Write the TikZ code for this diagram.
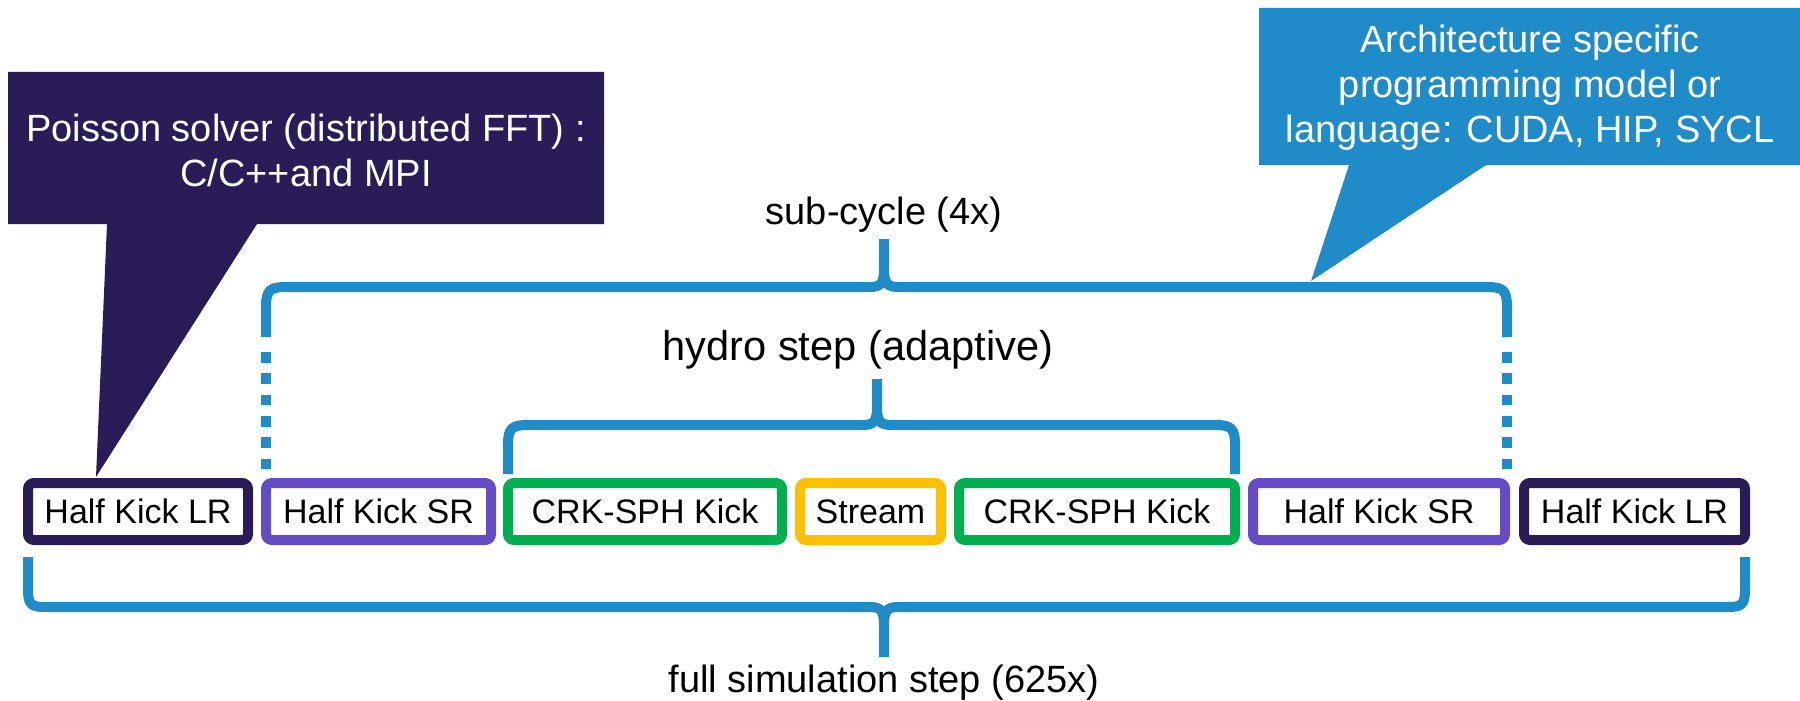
\documentclass[tikz,border=0pt]{standalone}
\usepackage{fontspec}
\setmainfont{Liberation Sans}
\definecolor{navy}{HTML}{2A1C57}
\definecolor{violet}{HTML}{654CC4}
\definecolor{okgreen}{HTML}{00B050}
\definecolor{gold}{HTML}{FFC000}
\definecolor{bblue}{HTML}{1F8BC9}
\tikzset{
  stagebox/.style={draw=#1, line width=5pt, rounded corners=3pt, fill=white, inner sep=0pt,
     minimum height=28.5pt, font=\fontsize{17}{20}\selectfont, text=black},
  bracepath/.style={draw=bblue, line width=5pt, line join=round},
  dotpath/.style={draw=bblue, line width=5pt, dash pattern=on 5.35pt off 5.3pt},
  lbl/.style={font=\fontsize{19}{23}\selectfont, text=black, inner sep=0pt},
  callouttext/.style={font=\fontsize{19}{22.5}\selectfont, text=white, align=center, inner sep=0pt}
}
\begin{document}
\begin{tikzpicture}[x=0.5pt,y=-0.5pt]
\useasboundingbox (0,0) rectangle (1800,701);

% braces
% sub-cycle
\draw[bracepath] (266,337) -- (266,307) .. controls (266,290) and (270,287) .. (286,287)
   -- (870,287) .. controls (881,287) and (884,283) .. (884,269) -- (884,239);
\draw[bracepath] (1507,337) -- (1507,307) .. controls (1507,290) and (1503,287) .. (1487,287)
   -- (898,287) .. controls (887,287) and (884,283) .. (884,269);
\draw[dotpath] (266,352) -- (266,469);
\draw[dotpath] (1507,352) -- (1507,469);
% hydro
\draw[bracepath] (508,474) -- (508,445) .. controls (508,428) and (512,425) .. (528,425)
   -- (863,425) .. controls (874,425) and (877,421) .. (877,407) -- (877,379);
\draw[bracepath] (1235,474) -- (1235,445) .. controls (1235,428) and (1231,425) .. (1215,425)
   -- (891,425) .. controls (880,425) and (877,421) .. (877,407);
% full
\draw[bracepath] (28,557) -- (28,590) .. controls (28,605) and (32,607) .. (45,607)
   -- (870,607) .. controls (881,607) and (884,611) .. (884,625) -- (884,657);
\draw[bracepath] (1745,557) -- (1745,590) .. controls (1745,605) and (1741,607) .. (1728,607)
   -- (898,607) .. controls (887,607) and (884,611) .. (884,625);

% labels
\node[lbl] (lsub) at (884,215) {sub-cycle (4x)};
\node[lbl, font=\fontsize{20.8}{24}\selectfont] (lhydro) at (858,350) {hydro step (adaptive)};
\node[lbl] (lfull) at (884,683) {full simulation step (625x)};

% callouts
\fill[navy] (8,72) -- (604,72) -- (604,224) -- (257,224) -- (96,477) -- (107,224) -- (8,224) -- cycle;
\node[callouttext] (c1) at (306,150) {Poisson solver (distributed FFT) :\\C/C++and MPI};
\fill[bblue] (1259,8) -- (1800,8) -- (1800,165) -- (1486,165) -- (1311,281) -- (1349,165) -- (1259,165) -- cycle;
\node[callouttext] (c2) at (1530,88) {Architecture specific\\programming model or\\language: CUDA, HIP, SYCL};

% boxes
\node[stagebox=navy, minimum width=110pt] (lr1) at (138,511.5) {Half Kick LR};
\node[stagebox=violet, minimum width=112.5pt] (sr1) at (378.5,511.5) {Half Kick SR};
\node[stagebox=okgreen, minimum width=137pt] (crk1) at (645,511.5) {CRK-SPH Kick};
\node[stagebox=gold, minimum width=70.5pt] (stream) at (870.5,511.5) {Stream};
\node[stagebox=okgreen, minimum width=138pt] (crk2) at (1097,511.5) {CRK-SPH Kick};
\node[stagebox=violet, minimum width=126pt] (sr2) at (1379,511.5) {Half Kick SR};
\node[stagebox=navy, minimum width=110.5pt] (lr2) at (1634.5,511.5) {Half Kick LR};
\end{tikzpicture}
\end{document}
